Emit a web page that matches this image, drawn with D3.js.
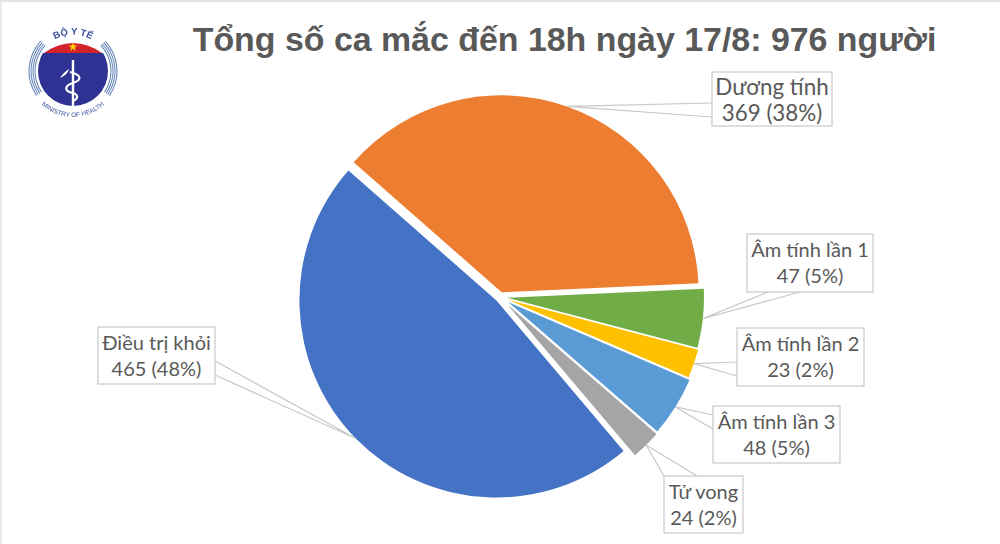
<!DOCTYPE html>
<html>
<head>
<meta charset="utf-8">
<script src="https://cdn.jsdelivr.net/npm/d3@7"></script>
<style>
  html, body { margin: 0; padding: 0; background: #fff; }
  svg { display: block; }
</style>
</head>
<body>
<svg id="chart"></svg>
<script>
const titleText = "Tổng số ca mắc đến 18h ngày 17/8: 976 người";
const categories = ["Dương tính", "Âm tính lần 1", "Âm tính lần 2", "Âm tính lần 3", "Tử vong", "Điều trị khỏi"];
const values = [369, 47, 23, 48, 24, 465];
const percents = ["38%", "5%", "2%", "5%", "2%", "48%"];
const colors = ["#ed7d31", "#70ad47", "#ffc000", "#5b9bd5", "#a5a5a5", "#4472c4"];

const width = 1000;
const height = 544;
const cx = 500;
const cy = 297;
const radius = 197;
const startDeg = -48.7;
// how far each slice is pulled out of the pie
const explode = [5, 7, 8, 10, 11, 5];

// label boxes: x, y, w, h, text size, and the two points where the callout leaves the box
const labelBoxes = [
  { x: 712, y: 72, w: 120, h: 54, size: 22.4, a: [712, 103], b: [712, 117] },
  { x: 747, y: 234, w: 126, h: 58, size: 20, a: [768, 292], b: [800, 292] },
  { x: 737, y: 328, w: 127, h: 58, size: 20, a: [737, 362], b: [737, 376] },
  { x: 713, y: 406, w: 127, h: 57, size: 20, a: [713, 415], b: [713, 429] },
  { x: 664, y: 476, w: 79, h: 57, size: 20, a: [664, 476], b: [697, 476] },
  { x: 98, y: 327, w: 117, h: 57, size: 20, a: [215, 361], b: [215, 375] },
];

const svg = d3.select("#chart").attr("width", width).attr("height", height);
svg.append("rect").attr("width", width).attr("height", height).attr("fill", "#fff");
// faint frame of the original slide
svg.append("path").attr("d", "M0.5,544V1H1000").attr("fill", "none").attr("stroke", "#e4e4e4").attr("stroke-width", 2);

svg.append("text")
  .attr("x", 564.5).attr("y", 51)
  .attr("text-anchor", "middle")
  .attr("font-family", "Liberation Sans")
  .attr("font-weight", "bold")
  .attr("font-size", 33.9)
  .attr("fill", "#595959")
  .text(titleText);

const rad = Math.PI / 180;
const pie = d3.pie().sort(null)
  .startAngle(startDeg * rad)
  .endAngle((startDeg + 360) * rad)
  .value((d) => d);
const arcs = pie(values);
const arc = d3.arc().innerRadius(0).outerRadius(radius);

// offset of an exploded slice along its bisector
const shift = (d, r) => {
  const mid = (d.startAngle + d.endAngle) / 2;
  return [Math.sin(mid) * r, -Math.cos(mid) * r];
};

const pieGroup = svg.append("g").attr("transform", `translate(${cx},${cy})`);
pieGroup.selectAll("path")
  .data(arcs)
  .join("path")
  .attr("d", arc)
  .attr("fill", (d, i) => colors[i])
  .attr("transform", (d, i) => `translate(${shift(d, explode[i])})`);

// callouts
const labels = svg.append("g");
arcs.forEach((d, i) => {
  const box = labelBoxes[i];
  const tip = shift(d, radius + explode[i]);
  labels.append("path")
    .attr("d", d3.line()([box.a, [cx + tip[0], cy + tip[1]], box.b]))
    .attr("fill", "none")
    .attr("stroke", "#c8c8c8")
    .attr("stroke-width", 1.2);
  labels.append("rect")
    .attr("x", box.x).attr("y", box.y)
    .attr("width", box.w).attr("height", box.h)
    .attr("fill", "#fff")
    .attr("stroke", "#c8c8c8")
    .attr("stroke-width", 1.2);
  const text = labels.append("text")
    .attr("text-anchor", "middle")
    .attr("font-family", "Lato")
    .attr("font-size", box.size)
    .attr("fill", "#595959");
  text.append("tspan")
    .attr("x", box.x + box.w / 2).attr("y", box.y + 23)
    .text(categories[i]);
  text.append("tspan")
    .attr("x", box.x + box.w / 2).attr("y", box.y + 49)
    .text(`${values[i]} (${percents[i]})`);
});

// ministry logo
const defs = svg.append("defs");
defs.append("filter").attr("id", "soft")
  .append("feGaussianBlur").attr("stdDeviation", 0.4);
defs.append("clipPath").attr("id", "logoBody")
  .append("rect").attr("x", -40).attr("y", -18).attr("width", 80).attr("height", 60);
defs.append("path").attr("id", "logoTop").attr("d", "M-30,-21A37,37 0 0 1 30,-21");
defs.append("path").attr("id", "logoBottom").attr("d", "M-41.7,19.4A46,46 0 0 0 41.7,19.4");

const logo = svg.append("g").attr("transform", "translate(73,71)").attr("filter", "url(#soft)");
const navy = "#2e3192";
logo.append("circle").attr("r", 35).attr("fill", navy).attr("clip-path", "url(#logoBody)");
logo.append("path").attr("d", "M-29,-18Q0,-38 29,-18Z").attr("fill", "#d2232a");
logo.append("path")
  .attr("d", d3.symbol().type(d3.symbolStar).size(26)())
  .attr("transform", "translate(0,-24)")
  .attr("fill", "#ffd200");
// ring of thin arcs on both sides
[37.5, 39.5, 41.5, 43.5].forEach((r) => {
  [[-124, -47], [47, 124]].forEach((span) => {
    logo.append("path")
      .attr("d", d3.arc().innerRadius(r).outerRadius(r + 1)
        .startAngle(span[0] * rad).endAngle(span[1] * rad)())
      .attr("fill", "#5f7fb5");
  });
});
// staff and snake
logo.append("path")
  .attr("d", "M0,-11V35")
  .attr("stroke", "#fff").attr("stroke-width", 2.4).attr("fill", "none");
logo.append("path")
  .attr("d", "M-3,1C9,4 9,9 0,12C-9,15 -9,20 0,22C6,24 5,28 0,30")
  .attr("stroke", "#fff").attr("stroke-width", 2.2).attr("fill", "none");
logo.append("path")
  .attr("d", "M-13,7C-10,2 -7,0 -4,-2C-5,2 -8,5 -13,7Z")
  .attr("fill", "#fff");
// curved logo captions
logo.append("text")
  .attr("font-family", "Liberation Sans").attr("font-weight", "bold")
  .attr("font-size", 9.5).attr("fill", "#3b4f9e")
  .append("textPath").attr("href", "#logoTop").attr("startOffset", "50%")
  .attr("text-anchor", "middle").text("BỘ Y TẾ");
logo.append("text")
  .attr("font-family", "Liberation Sans")
  .attr("font-size", 6.5).attr("fill", "#3b4f9e")
  .append("textPath").attr("href", "#logoBottom").attr("startOffset", "50%")
  .attr("text-anchor", "middle").text("MINISTRY OF HEALTH");
</script>
</body>
</html>
